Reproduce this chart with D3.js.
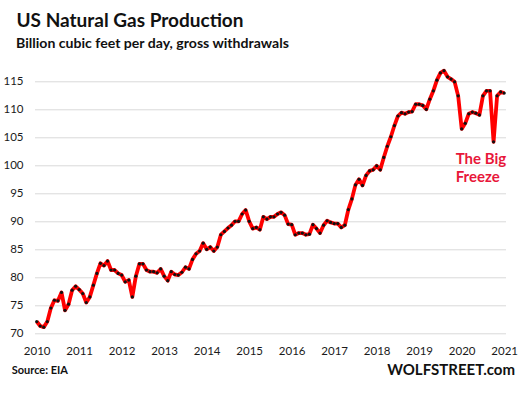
<!DOCTYPE html>
<html>
<head>
<meta charset="utf-8">
<script src="https://cdn.jsdelivr.net/npm/d3@7"></script>
<style>
  body { margin: 0; background: #fff; }
  svg { display: block; font-family: Lato, 'Open Sans', sans-serif; }
</style>
</head>
<body>
<div id="chart"></div>
<script>
// year labels, one every 12 monthly points
const years = ['2010', '2011', '2012', '2013', '2014', '2015', '2016', '2017', '2018', '2019', '2020', '2021']

// monthly gross withdrawals, billion cubic feet per day
const production = [
  72.1, 71.3, 71.1, 72.1, 74.5, 75.9, 75.8, 77.3, 74.1, 75.2, 77.7, 78.4,
  77.8, 77.1, 75.5, 76.5, 78.6, 80.7, 82.5, 82.1, 82.9, 81.3, 81.3, 80.7,
  80.4, 79.2, 79.5, 76.5, 80.2, 82.4, 82.4, 81.3, 81.0, 81.0, 80.8, 81.5,
  80.2, 79.4, 81.0, 80.5, 80.4, 80.9, 81.8, 81.5, 83.2, 84.2, 84.7, 86.1,
  85.0, 85.4, 84.7, 85.4, 87.6, 88.2, 88.8, 89.3, 90.0, 90.0, 91.3, 92.0,
  90.0, 88.7, 88.9, 88.5, 90.8, 90.4, 90.8, 90.8, 91.3, 91.6, 91.1, 89.5,
  89.4, 87.6, 87.9, 87.9, 87.6, 87.7, 89.4, 88.7, 87.9, 89.3, 90.1, 89.8,
  89.6, 89.6, 88.9, 89.3, 92.1, 94.0, 96.5, 97.5, 96.4, 98.2, 99.0, 99.2,
  99.9, 99.2, 101.4, 103.4, 105.1, 107.1, 108.8, 109.4, 109.2, 109.5, 109.6, 110.9,
  110.9, 110.7, 110.0, 111.8, 113.3, 115.2, 116.5, 116.9, 115.8, 115.4, 114.9, 112.4,
  106.5, 107.5, 109.2, 109.5, 109.3, 109.0, 112.4, 113.3, 113.3, 104.2, 112.4, 113.1,
  112.9
]

const yTicks = [70, 75, 80, 85, 90, 95, 100, 105, 110, 115]

const width = 519
const height = 398

const svg = d3
  .select('#chart')
  .append('svg')
  .attr('width', width)
  .attr('height', height)

const x = d3.scaleLinear().domain([0, production.length - 1]).range([36.7, 504.2])
const y = d3.scaleLinear().domain([70, 115]).range([333.3, 81.3])

// y axis with the gridlines drawn as long ticks
svg
  .append('g')
  .attr('transform', 'translate(35,0)')
  .call(d3.axisLeft(y).tickValues(yTicks).tickSize(-471).tickPadding(11.5))
  .call(g => g.select('.domain').remove())
  .call(g => g.selectAll('.tick line').attr('stroke', '#d9d9d9'))
  .call(g => g.selectAll('.tick text')
    .attr('fill', '#1a1a1a')
    .style('font-size', '11.5px')
    .style('font-family', 'Lato, sans-serif'))

// x axis, labels only
svg
  .append('g')
  .attr('transform', 'translate(0,340)')
  .call(d3.axisBottom(x)
    .tickValues(d3.range(0, production.length, 12))
    .tickFormat((d, i) => years[i])
    .tickSize(0))
  .call(g => g.select('.domain').remove())
  .call(g => g.selectAll('.tick text')
    .attr('y', 15)
    .attr('dy', 0)
    .attr('fill', '#1a1a1a')
    .style('font-size', '11.5px')
    .style('font-family', 'Lato, sans-serif'))

const line = d3.line()
  .x((d, i) => x(i))
  .y(d => y(d))

svg
  .append('path')
  .datum(production)
  .attr('fill', 'none')
  .attr('stroke', '#ff0000')
  .attr('stroke-width', 3.8)
  .attr('stroke-linejoin', 'round')
  .attr('d', line)

svg
  .append('g')
  .selectAll('circle')
  .data(production)
  .join('circle')
  .attr('cx', (d, i) => x(i))
  .attr('cy', d => y(d))
  .attr('r', 1.6)
  .attr('fill', '#111')

// titles
svg.append('text')
  .attr('x', 16.5)
  .attr('y', 26.7)
  .attr('fill', '#111')
  .style('font-size', '19px')
  .style('font-weight', 'bold')
  .text('US Natural Gas Production')

svg.append('text')
  .attr('x', 16)
  .attr('y', 47.7)
  .attr('fill', '#111')
  .style('font-size', '14.1px')
  .style('font-weight', 'bold')
  .text('Billion cubic feet per day, gross withdrawals')

// annotation
const note = svg.append('text')
  .attr('fill', '#e8173a')
  .style('font-size', '15px')
  .style('font-weight', 'bold')
note.append('tspan').attr('x', 455.7).attr('y', 164).text('The Big')
note.append('tspan').attr('x', 455.7).attr('y', 181.7).text('Freeze')

// footer
svg.append('text')
  .attr('x', 11.7)
  .attr('y', 374)
  .attr('fill', '#111')
  .style('font-size', '11px')
  .style('font-weight', 'bold')
  .text('Source: EIA')

svg.append('text')
  .attr('x', 515)
  .attr('y', 375)
  .attr('text-anchor', 'end')
  .attr('fill', '#111')
  .style('font-size', '15px')
  .style('font-weight', 'bold')
  .text('WOLFSTREET.com')
</script>
</body>
</html>
